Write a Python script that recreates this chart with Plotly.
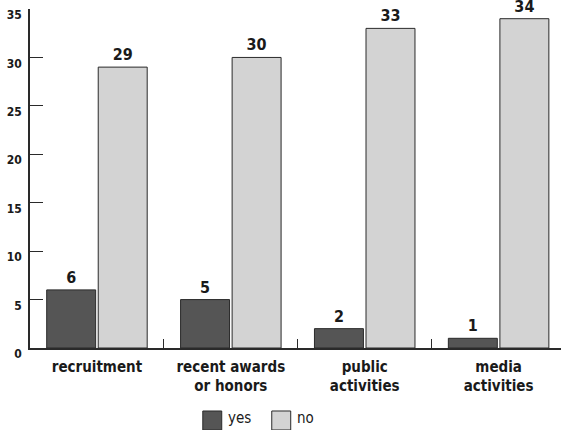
import plotly.graph_objects as go

categories = ["recruitment", "recent awards<br>or honors", "public<br>activities", "media<br>activities"]
yes_values = [6, 5, 2, 1]
no_values = [29, 30, 33, 34]
series_names = ["yes", "no"]
y_ticks = [0, 5, 10, 15, 20, 25, 30, 35]

FONT = "Liberation Sans Narrow, DejaVu Sans Condensed, Arial Narrow, sans-serif"
YES_COLOR = "#555555"
NO_COLOR = "#d3d3d3"
EDGE = "#2a2a2a"

fig = go.Figure()
for name, vals, color in [(series_names[0], yes_values, YES_COLOR),
                          (series_names[1], no_values, NO_COLOR)]:
    fig.add_trace(go.Bar(
        x=categories, y=vals, name=name,
        marker=dict(color=color, line=dict(color=EDGE, width=1)),
        text=[str(v) for v in vals], textposition="outside",
        textfont=dict(family=FONT, size=16, color="#1a1a1a", weight="bold"),
        cliponaxis=False, showlegend=False,
    ))

# hand-built legend below the axis
legend_items = [(series_names[0], YES_COLOR, 0.3254), (series_names[1], NO_COLOR, 0.4553)]
for name, color, x0 in legend_items:
    fig.add_shape(type="rect", xref="paper", yref="paper",
                  x0=x0, x1=x0 + 0.0357, y0=-0.2418, y1=-0.1858,
                  fillcolor=color, line=dict(color=EDGE, width=1))
    fig.add_annotation(xref="paper", yref="paper", x=x0 + 0.044, y=-0.207,
                       text=name, showarrow=False, xanchor="left", yanchor="middle",
                       font=dict(family=FONT, size=15, color="#1a1a1a"))

fig.update_layout(
    width=561, height=430,
    margin=dict(l=29.5, r=0, t=9, b=82),
    paper_bgcolor="white", plot_bgcolor="white",
    barmode="group", bargap=0.23, bargroupgap=0.05,
    font=dict(family=FONT, color="#1a1a1a"),
)
fig.update_xaxes(
    type="category", range=[-0.5, 3.466],
    showline=True, linecolor=EDGE, linewidth=1.5,
    ticks="inside", ticklen=9, tickcolor=EDGE, tickwidth=1, tickson="boundaries",
    tickfont=dict(family=FONT, size=15, color="#1a1a1a", weight="bold"),
    ticklabelstandoff=4,
    showgrid=False, zeroline=False,
)
fig.update_yaxes(
    range=[0, 35.001], tickvals=y_ticks,
    showline=True, linecolor=EDGE, linewidth=1.5,
    ticks="inside", ticklen=13, tickcolor=EDGE, tickwidth=1,
    tickfont=dict(family=FONT, size=12, color="#1a1a1a", weight="bold"),
    ticklabelshift=6, ticklabelstandoff=4,
    showgrid=False, zeroline=False,
)

fig.write_html("out.html")
